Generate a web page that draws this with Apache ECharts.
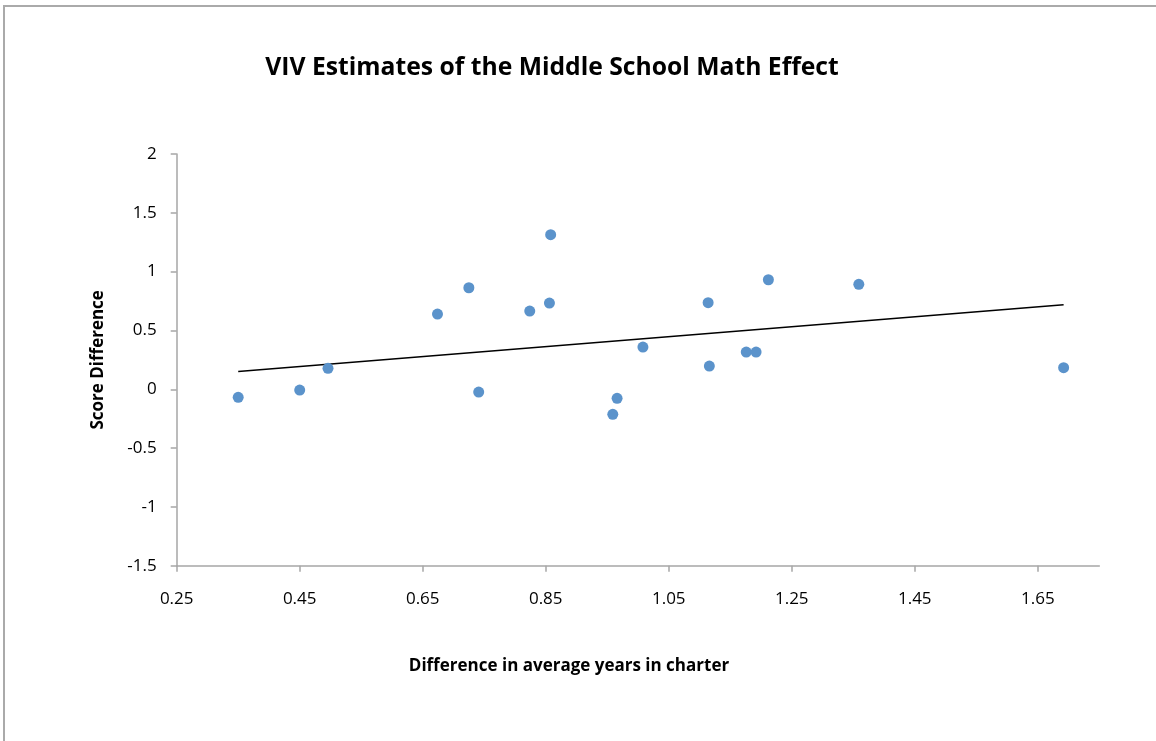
<!DOCTYPE html>
<html><head><meta charset="utf-8">
<script src="https://cdn.jsdelivr.net/npm/echarts@6/dist/echarts.min.js"></script>
<style>html,body{margin:0;padding:0;background:#fff}#c{width:1156px;height:741px}</style>
</head><body><div id="c"></div>
<script>
const titleText = 'VIV Estimates of the Middle School Math Effect';
const xName = 'Difference in average years in charter';
const yName = 'Score Difference';
const xVals = [0.35, 0.45, 0.496, 0.674, 0.725, 0.741, 0.824, 0.858, 0.856, 0.959, 0.966, 1.008, 1.114, 1.116, 1.176, 1.192, 1.212, 1.359, 1.692];
const yVals = [-0.069, -0.007, 0.178, 0.639, 0.863, -0.024, 0.665, 1.314, 0.733, -0.213, -0.077, 0.359, 0.736, 0.197, 0.316, 0.316, 0.931, 0.892, 0.183];
const trendX = [0.35, 1.692];
const trendY = [0.152, 0.719];
const xTicks = [0.25, 0.45, 0.65, 0.85, 1.05, 1.25, 1.45, 1.65];
const yTicks = [-1.5, -1, -0.5, 0, 0.5, 1, 1.5, 2];

const font = '"Open Sans", Lato, sans-serif';
const chart = echarts.init(document.getElementById('c'), null, {renderer: 'canvas'});
chart.setOption({
  animation: false,
  backgroundColor: '#fff',
  graphic: [{type: 'rect', shape: {x: 4, y: 6, width: 1300, height: 900}, style: {fill: 'none', stroke: '#aaaaaa', lineWidth: 2}, silent: true}],
  title: {text: titleText, left: 547, top: 50, textAlign: 'center',
    textStyle: {fontFamily: font, fontWeight: 'bold', fontSize: 24.7, color: '#000'}},
  grid: {left: 176.7, right: 56.7, top: 154, bottom: 175.3},
  xAxis: {type: 'value', min: 0.25, max: 1.75,
    name: xName, nameLocation: 'middle', nameGap: 92,
    nameTextStyle: {fontFamily: font, fontWeight: 'bold', fontSize: 17, color: '#000', padding: [0, 138, 0, 0]},
    axisLine: {show: true, onZero: false, lineStyle: {color: '#a6a6a6', width: 1.5}},
    axisTick: {show: true, length: 6, customValues: xTicks, lineStyle: {color: '#a6a6a6', width: 1.5}},
    axisLabel: {customValues: xTicks, margin: 25, fontFamily: font, fontSize: 17, color: '#000', formatter: v => v.toFixed(2)},
    splitLine: {show: false}},
  yAxis: {type: 'value', min: -1.5, max: 2, interval: 0.5,
    name: yName, nameLocation: 'middle', nameGap: 70, nameRotate: 90,
    nameTextStyle: {fontFamily: font, fontWeight: 'bold', fontSize: 17, color: '#000'},
    axisLine: {show: true, onZero: false, lineStyle: {color: '#a6a6a6', width: 1.5}},
    axisTick: {show: true, length: 6, customValues: yTicks, lineStyle: {color: '#a6a6a6', width: 1.5}},
    axisLabel: {customValues: yTicks, margin: 20, fontFamily: font, fontSize: 17, color: '#000', formatter: v => String(v)},
    splitLine: {show: false}},
  series: [
    {type: 'scatter', data: xVals.map((x, i) => [x, yVals[i]]), symbolSize: 11,
      itemStyle: {color: '#5b93cb', opacity: 1}, z: 3},
    {type: 'line', data: trendX.map((x, i) => [x, trendY[i]]), symbol: 'none',
      lineStyle: {color: '#000', width: 1.5}, z: 2}
  ]
});
</script></body></html>
